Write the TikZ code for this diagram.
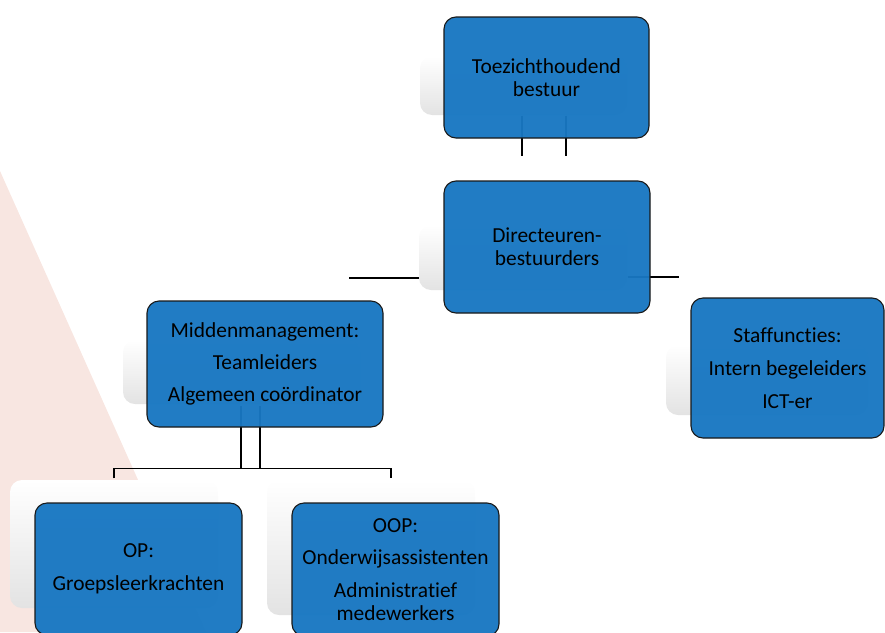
\documentclass[tikz,border=0pt]{standalone}
\usepackage{fontspec}
\setmainfont{Carlito}[Ligatures={NoCommon}]
\usetikzlibrary{calc,positioning,backgrounds}

\definecolor{orgblue}{HTML}{1877C2}
\definecolor{bgpink}{HTML}{F8E6E1}

\begin{document}
\begin{tikzpicture}[x=1pt, y=-1pt, line join=round, line cap=butt,
    font=\fontsize{21.4}{23}\selectfont,
    box/.style={draw=black!90, line width=1.1pt, fill=orgblue, fill opacity=0.96,
        text opacity=1, rounded corners=12pt, align=center, inner sep=0pt},
    plate/.style={rounded corners=12pt, top color=white, bottom color=black!11},
    link/.style={draw=black, line width=1.1pt}]
    \useasboundingbox (0,0) rectangle (885,632);

    % boxes
    \node[box, minimum width=205pt, minimum height=121pt] (toez) at (546.5,77.5)
        {Toezichthoudend\\bestuur};
    \node[box, minimum width=206pt, minimum height=132pt] (dir) at (547,247)
        {Directeuren-\\bestuurders};
    \node[box, minimum width=236pt, minimum height=126pt] (mid) at (265,364)
        {Middenmanagement:\\[9pt]Teamleiders\\[9pt]Algemeen coördinator};
    \node[box, minimum width=193pt, minimum height=140pt] (staf) at (787.5,368)
        {Staffuncties:\\[10pt]Intern begeleiders\\[10pt]ICT-er};
    \node[box, minimum width=207pt, minimum height=132pt] (op) at (138.5,569)
        {OP:\\[10pt]Groepsleerkrachten};
    \node[box, minimum width=207pt, minimum height=133pt] (oop) at (395.5,569.5)
        {OOP:\\[9pt]Onderwijsassistenten\\[10pt]Administratief\\medewerkers};

    \begin{pgfonlayer}{background}
        \fill[bgpink] (0,171) -- (206,632) -- (0,632) -- cycle;

        % connectors
        \draw[link] ($(toez.south)+(-24.5,-23)$) -- ($(dir.north)+(-25,-24)$);
        \draw[link] ($(toez.south)+(19.5,-23)$) -- ($(dir.north)+(19,-24)$);
        \draw[link] ($(dir.west)+(-94,31)$) -- ($(dir.west)+(-20,31)$);
        \draw[link] ($(dir.east)+(-23,30)$) -- ($(dir.east)+(28,30)$);
        \draw[link] ($(mid.south)+(-24,-22)$) -- ++(0,63);
        \draw[link] ($(mid.south)+(-5,-22)$) -- ++(0,63);
        \draw[link] ($(op.north)+(-24.5,-24)$) |- ($(mid.south)+(0,41)$)
            -| ($(oop.north)+(-4.5,-24)$);

        % plates behind the boxes
        \foreach \xa/\ya/\xb/\yb in {
            420/56/627/115,
            419/225/627/290,
            123/340/360/404,
            666/345/868/415,
            10/480/218/608,
            267/480/475/615}
        {
            \path[plate] (\xa,\ya) rectangle (\xb,\yb);
        }
    \end{pgfonlayer}
\end{tikzpicture}
\end{document}
